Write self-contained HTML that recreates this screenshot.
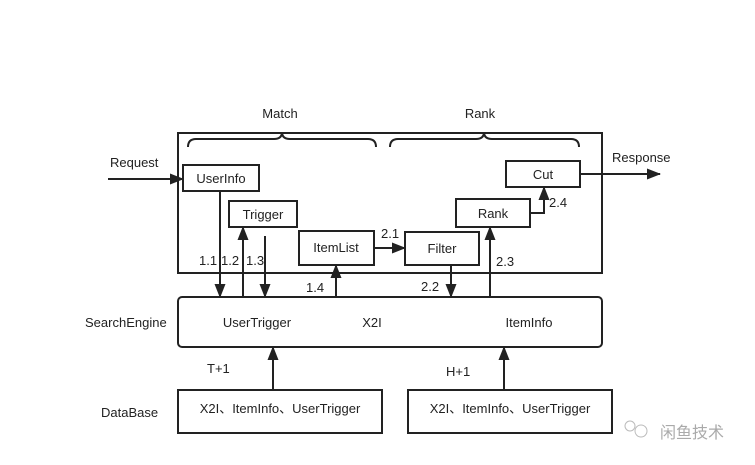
<!DOCTYPE html>
<html><head><meta charset="utf-8"><style>
html,body{margin:0;padding:0;background:#fff;}
svg{display:block;}
text{font-family:"Liberation Sans","Noto Sans CJK SC",sans-serif;font-size:13px;fill:#222;}
</style></head><body>
<svg width="755" height="465" viewBox="0 0 755 465" xmlns="http://www.w3.org/2000/svg">
<defs>
<marker id="a" markerWidth="14" markerHeight="12" refX="13" refY="6" orient="auto" markerUnits="userSpaceOnUse">
<path d="M0,0.5 L14,6 L0,11.5 z" fill="#222"/></marker>
</defs>
<g stroke="#222" stroke-width="2" fill="none">
<rect x="178" y="133" width="424" height="140"/>
<path d="M188,147 Q188,139 196,139 L274,139 Q282,139 282,132 Q282,139 290,139 L368,139 Q376,139 376,147"/>
<path d="M390,147 Q390,139 398,139 L476,139 Q484,139 484,132 Q484,139 492,139 L571,139 Q579,139 579,147"/>
<rect x="183" y="165" width="76" height="26"/>
<rect x="229" y="201" width="68" height="26"/>
<rect x="299" y="231" width="75" height="34"/>
<rect x="405" y="232" width="74" height="33"/>
<rect x="456" y="199" width="74" height="28"/>
<rect x="506" y="161" width="74" height="26"/>
<rect x="178" y="297" width="424" height="50" rx="4"/>
<rect x="178" y="390" width="204" height="43"/>
<rect x="408" y="390" width="204" height="43"/>
<line x1="108" y1="179" x2="183" y2="179" marker-end="url(#a)"/>
<line x1="580" y1="174" x2="660" y2="174" marker-end="url(#a)"/>
<line x1="220" y1="191" x2="220" y2="297" marker-end="url(#a)"/>
<line x1="243" y1="297" x2="243" y2="227" marker-end="url(#a)"/>
<line x1="265" y1="236" x2="265" y2="297" marker-end="url(#a)"/>
<line x1="336" y1="297" x2="336" y2="265" marker-end="url(#a)"/>
<line x1="451" y1="265" x2="451" y2="297" marker-end="url(#a)"/>
<line x1="490" y1="297" x2="490" y2="227" marker-end="url(#a)"/>
<line x1="374" y1="248" x2="405" y2="248" marker-end="url(#a)"/>
<path d="M530,213 L544,213 L544,187" marker-end="url(#a)"/>
<line x1="273" y1="390" x2="273" y2="347" marker-end="url(#a)"/>
<line x1="504" y1="390" x2="504" y2="347" marker-end="url(#a)"/>
</g>
<g text-anchor="middle">
<text x="280" y="118">Match</text>
<text x="480" y="118">Rank</text>
<text x="221" y="183">UserInfo</text>
<text x="263" y="219">Trigger</text>
<text x="336" y="252">ItemList</text>
<text x="442" y="253">Filter</text>
<text x="493" y="218">Rank</text>
<text x="543" y="179">Cut</text>
<text x="257" y="327">UserTrigger</text>
<text x="372" y="327">X2I</text>
<text x="529" y="327">ItemInfo</text>
<text x="280" y="413">X2I、ItemInfo、UserTrigger</text>
<text x="510" y="413">X2I、ItemInfo、UserTrigger</text>
</g>
<text x="110" y="167">Request</text>
<text x="612" y="162">Response</text>
<text x="85" y="327">SearchEngine</text>
<text x="101" y="417">DataBase</text>
<text x="207" y="373">T+1</text>
<text x="446" y="376">H+1</text>
<text x="199" y="265">1.1</text>
<text x="221" y="265">1.2</text>
<text x="246" y="265">1.3</text>
<text x="306" y="292">1.4</text>
<text x="381" y="238">2.1</text>
<text x="421" y="291">2.2</text>
<text x="496" y="266">2.3</text>
<text x="549" y="207">2.4</text>
<g stroke="#bbb" fill="none" stroke-width="1"><circle cx="630" cy="426" r="5"/><circle cx="641" cy="431" r="6"/></g>
<text x="660" y="438" style="font-size:16px;fill:#aaa">闲鱼技术</text>
</svg>
</body></html>
